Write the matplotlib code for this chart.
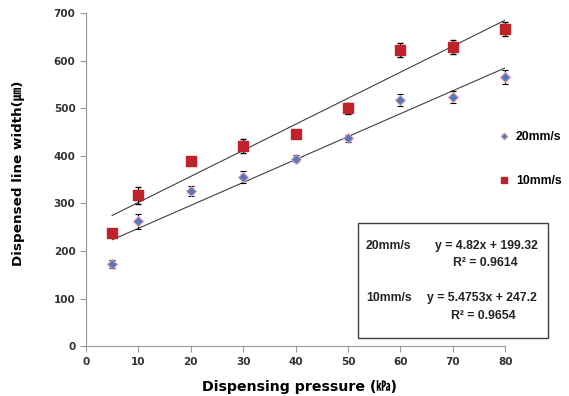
import numpy as np
import matplotlib.pyplot as plt

plt.rcParams['font.family'] = ['DejaVu Sans', 'Noto Sans CJK KR']

pressure = np.array([5, 10, 20, 30, 40, 50, 60, 70, 80])
w20 = np.array([173, 262, 326, 355, 394, 437, 517, 524, 565])
e20 = np.array([8, 15, 10, 12, 7, 7, 12, 12, 15])
w10 = np.array([238, 317, 389, 420, 445, 500, 622, 628, 666])
e10 = np.array([7, 18, 7, 15, 8, 12, 15, 15, 15])

fit20 = (4.82, 199.32)
fit10 = (5.4753, 247.2)

fig = plt.figure(figsize=(5.69, 3.96), dpi=100)
ax = fig.add_axes([0.151, 0.126, 0.737, 0.841])

xf = np.array([pressure.min(), pressure.max()])
ax.plot(xf, fit20[0] * xf + fit20[1], color='#404040', lw=0.8)
ax.plot(xf, fit10[0] * xf + fit10[1], color='#404040', lw=0.8)

eb20 = ax.errorbar(pressure, w20, yerr=e20, fmt='D', ms=5, color='#5577bb',
                   mec='#e0a0b0', mew=0.8, ecolor='black', elinewidth=0.8, capsize=2.5,
                   label='20mm/s', zorder=3)
eb10 = ax.errorbar(pressure, w10, yerr=e10, fmt='s', ms=6.8, color='#c0222a',
                   mec='#c0222a', ecolor='black', elinewidth=0.8, capsize=2.5,
                   label='10mm/s', zorder=3)
for eb in (eb20, eb10):
    for a in eb.get_children():
        a.set_clip_on(False)

ax.set_xlim(0, 80)
ax.set_ylim(0, 700)
ax.set_xticks(range(0, 81, 10))
ax.set_yticks(range(0, 701, 100))
for s in ['top', 'right']:
    ax.spines[s].set_visible(False)
for s in ['left', 'bottom']:
    ax.spines[s].set_color('#999999')
ax.tick_params(colors='#999999', labelcolor='#333333', labelsize=7.5, length=4)
for lb in ax.get_xticklabels() + ax.get_yticklabels():
    lb.set_fontweight('bold')

ax.set_xlabel('Dispensing pressure (㎪)', fontsize=10.2, fontweight='bold', va='top')
ax.set_ylabel('Dispensed line width(㎛)', fontsize=9.7, fontweight='bold')
ax.xaxis.set_label_coords(0.51, -0.102)
ax.yaxis.set_label_coords(-0.146, 0.52)

lab_font = {'weight': 'bold', 'size': 8.8, 'family': ['Liberation Sans', 'DejaVu Sans']}
fig.legend([eb20[0], eb10[0]], ['20mm/s', '10mm/s'], loc='center left',
           bbox_to_anchor=(0.855, 0.598), frameon=False, prop=lab_font,
           labelspacing=2.6, handletextpad=0.5, handlelength=1, markerscale=0.7)

# equation box
box = plt.Rectangle((358 / 569, 1 - 338 / 396), 190 / 569, 115 / 396,
                    transform=fig.transFigure, fill=False, ec='#404040', lw=1)
fig.add_artist(box)
tk = dict(fontsize=8.8, fontweight='bold', color='#222222', va='center',
          family=['Liberation Sans', 'DejaVu Sans'])
fig.text(366 / 569, 1 - 246 / 396, '20mm/s', ha='left', **tk)
fig.text(538 / 569, 1 - 246 / 396, f'y = {fit20[0]}x + {fit20[1]}', ha='right', **tk)
fig.text(518 / 569, 1 - 263 / 396, 'R² = 0.9614', ha='right', **tk)
fig.text(366 / 569, 1 - 298 / 396, '10mm/s', ha='left', **tk)
fig.text(537 / 569, 1 - 298 / 396, f'y = {fit10[0]}x + {fit10[1]}', ha='right', **tk)
fig.text(516 / 569, 1 - 316 / 396, 'R² = 0.9654', ha='right', **tk)

fig.savefig('out.png', dpi=100)
